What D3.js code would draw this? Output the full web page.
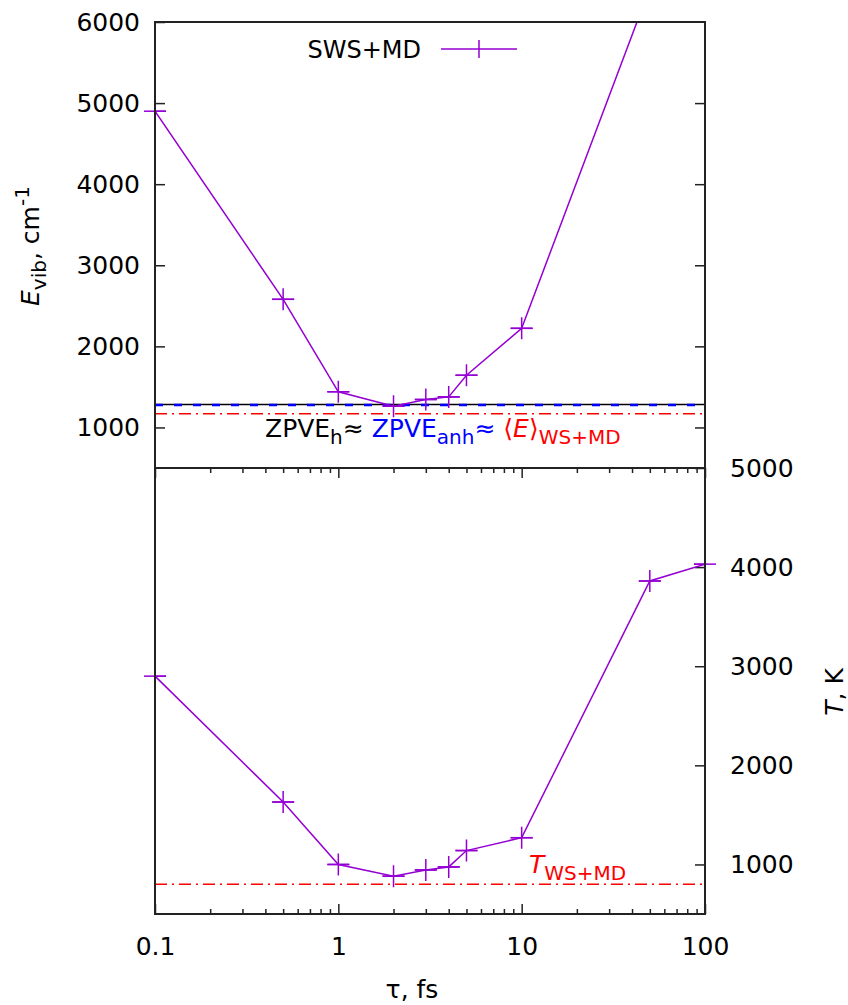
<!DOCTYPE html>
<html>
<head>
<meta charset="utf-8">
<script src="https://cdn.jsdelivr.net/npm/d3@7"></script>
<style>
  body { margin: 0; background: #fff; }
  svg { display: block; font-family: "DejaVu Sans", sans-serif; }
</style>
</head>
<body>
<svg id="chart"></svg>
<script>
// data
const tau = [0.1, 0.5, 1, 2, 3, 4, 5, 10, 50, 100];
const eVib = [4900, 2580, 1440, 1262, 1345, 1377, 1644, 2222, 6420, 7100];
const tempK = [2900, 1630, 1000, 882, 945, 975, 1140, 1270, 3860, 4030];
const zpveH = 1283;
const zpveAnh = 1278;
const eMean = 1168;
const tMean = 800;
const xTicks = [0.1, 1, 10, 100];
const yTopTicks = [1000, 2000, 3000, 4000, 5000, 6000];
const yBotTicks = [1000, 2000, 3000, 4000, 5000];

const W = 848, H = 1005;
const left = 155, right = 705;
const topY0 = 22, midY = 468, botY1 = 914;
const PURPLE = "#9400d3";
const FS = 25, FS_SUB = 20;

const svg = d3.select("#chart").attr("width", W).attr("height", H);
svg.append("rect").attr("width", W).attr("height", H).attr("fill", "#fff");

//scales
const x = d3.scaleLog().domain([0.1, 100]).range([left, right]);
const yTop = d3.scaleLinear().domain([500, 6000]).range([midY, topY0]);
const yBot = d3.scaleLinear().domain([500, 5000]).range([botY1, midY]);

// minor ticks for log axis
let minorTicks = [];
[0.1, 1, 10].forEach(d => { for (let k = 2; k <= 9; k++) minorTicks.push(d * k); });

//clip paths
const defs = svg.append("defs");
defs.append("clipPath").attr("id", "clipTop").append("rect")
    .attr("x", left).attr("y", topY0).attr("width", right - left).attr("height", midY - topY0);
defs.append("clipPath").attr("id", "clipBot").append("rect")
    .attr("x", left).attr("y", midY).attr("width", right - left).attr("height", botY1 - midY);

function styleAxis(g){
    g.select(".domain").remove();
    g.selectAll("line").attr("stroke", "#222").attr("stroke-width", 1.5);
    g.selectAll("text").attr("font-size", FS).attr("fill", "#000").attr("font-family", "DejaVu Sans");
}

// ---- top panel axes
svg.append("g").attr("transform", `translate(${left},0)`)
    .call(d3.axisLeft(yTop).tickValues(yTopTicks).tickSize(-10).tickPadding(15).tickFormat(d3.format("d")))
    .call(styleAxis);
svg.append("g").attr("transform", `translate(${right},0)`)
    .call(d3.axisRight(yTop).tickValues(yTopTicks.filter(d => d < 6000)).tickSize(-10).tickFormat(""))
    .call(styleAxis);

// ---- bottom panel axes
svg.append("g").attr("transform", `translate(${right},0)`)
    .call(d3.axisRight(yBot).tickValues(yBotTicks).tickSize(-10).tickPadding(25).tickFormat(d3.format("d")))
    .call(styleAxis);
svg.append("g").attr("transform", `translate(0,${botY1})`)
    .call(d3.axisBottom(x).tickValues(xTicks).tickSize(-10).tickPadding(23).tickFormat(d => d3.format("~g")(d)))
    .call(styleAxis);
svg.append("g").attr("transform", `translate(0,${botY1})`)
    .call(d3.axisBottom(x).tickValues(minorTicks).tickSize(-5).tickFormat(""))
    .call(styleAxis);
svg.append("g").attr("transform", `translate(0,${midY})`)
    .call(d3.axisTop(x).tickValues(xTicks).tickSize(-10).tickFormat(""))
    .call(styleAxis);
svg.append("g").attr("transform", `translate(0,${midY})`)
    .call(d3.axisTop(x).tickValues(minorTicks).tickSize(-5).tickFormat(""))
    .call(styleAxis);

// ---- reference lines
const topG = svg.append("g").attr("clip-path", "url(#clipTop)");
topG.append("line").attr("x1", left).attr("x2", right)
    .attr("y1", yTop(zpveH)).attr("y2", yTop(zpveH))
    .attr("stroke", "#000").attr("stroke-width", 1.5);
topG.append("line").attr("x1", left).attr("x2", right)
    .attr("y1", yTop(zpveAnh)).attr("y2", yTop(zpveAnh))
    .attr("stroke", "#0000ff").attr("stroke-width", 2.5).attr("stroke-dasharray", "8,11");
topG.append("line").attr("x1", left).attr("x2", right)
    .attr("y1", yTop(eMean)).attr("y2", yTop(eMean))
    .attr("stroke", "#ff0000").attr("stroke-width", 1.5).attr("stroke-dasharray", "12,5,2,5");

const botG = svg.append("g").attr("clip-path", "url(#clipBot)");
botG.append("line").attr("x1", left).attr("x2", right)
    .attr("y1", yBot(tMean)).attr("y2", yBot(tMean))
    .attr("stroke", "#ff0000").attr("stroke-width", 1.5).attr("stroke-dasharray", "12,5,2,5");

// ---- series
const topData = tau.map((t, i) => ({t: t, v: eVib[i]}));
const botData = tau.map((t, i) => ({t: t, v: tempK[i]}));
const MK = 11;

function drawSeries(g, data, yScale){
    g.append("path").datum(data)
        .attr("fill", "none").attr("stroke", PURPLE).attr("stroke-width", 1.5)
        .attr("d", d3.line().x(d => x(d.t)).y(d => yScale(d.v)));
    g.selectAll("path.mk").data(data).join("path")
        .attr("class", "mk")
        .attr("stroke", PURPLE).attr("stroke-width", 1.5)
        .attr("d", d => {
            let px = x(d.t), py = yScale(d.v);
            return `M${px - MK},${py}H${px + MK}M${px},${py - MK}V${py + MK}`;
        });
}
drawSeries(topG, topData, yTop);
drawSeries(botG, botData, yBot);
// horizontal bars of markers sitting on the frame edges stick out of the frame
const edgeG = svg.append("g");
edgeG.selectAll("path.t").data(topData.filter(d => yTop(d.v) > topY0)).join("path").attr("class", "t")
    .attr("stroke", PURPLE).attr("stroke-width", 1.5)
    .attr("d", d => `M${x(d.t) - MK},${yTop(d.v)}H${x(d.t) + MK}`);
edgeG.selectAll("path.b").data(botData).join("path").attr("class", "b")
    .attr("stroke", PURPLE).attr("stroke-width", 1.5)
    .attr("d", d => `M${x(d.t) - MK},${yBot(d.v)}H${x(d.t) + MK}`);

// ---- frames
svg.append("rect").attr("x", left).attr("y", topY0).attr("width", right - left).attr("height", midY - topY0)
    .attr("fill", "none").attr("stroke", "#222").attr("stroke-width", 2);
svg.append("rect").attr("x", left).attr("y", midY).attr("width", right - left).attr("height", botY1 - midY)
    .attr("fill", "none").attr("stroke", "#222").attr("stroke-width", 2);

// ---- legend
svg.append("text").attr("x", 421).attr("y", 58).attr("text-anchor", "end")
    .attr("font-size", 24).text("SWS+MD");
svg.append("line").attr("x1", 441).attr("x2", 517).attr("y1", 49).attr("y2", 49)
    .attr("stroke", PURPLE).attr("stroke-width", 1.5);
svg.append("line").attr("x1", 479).attr("x2", 479).attr("y1", 40).attr("y2", 58)
    .attr("stroke", PURPLE).attr("stroke-width", 1.5);

// ---- annotations
const ann = svg.append("text").attr("x", 265).attr("y", 437).attr("font-size", FS);
ann.append("tspan").attr("fill", "#000").text("ZPVE");
ann.append("tspan").attr("fill", "#000").attr("font-size", FS_SUB).attr("dy", 7).text("h");
ann.append("tspan").attr("fill", "#000").attr("dy", -7).text("≈ ");
ann.append("tspan").attr("fill", "#0000ff").text("ZPVE");
ann.append("tspan").attr("fill", "#0000ff").attr("font-size", FS_SUB).attr("dy", 7).text("anh");
ann.append("tspan").attr("fill", "#0000ff").attr("dy", -7).text("≈ ");
ann.append("tspan").attr("fill", "#ff0000").text("⟨");
ann.append("tspan").attr("fill", "#ff0000").attr("font-style", "italic").text("E");
ann.append("tspan").attr("fill", "#ff0000").text("⟩");
ann.append("tspan").attr("fill", "#ff0000").attr("font-size", FS_SUB).attr("dy", 7).text("WS+MD");

const tl = svg.append("text").attr("x", 529).attr("y", 873).attr("font-size", FS).attr("fill", "#ff0000");
tl.append("tspan").attr("font-style", "italic").text("T");
tl.append("tspan").attr("font-size", FS_SUB).attr("dy", 7).text("WS+MD");

// ---- axis titles
const yl = svg.append("text").attr("transform", "translate(39,246) rotate(-90)")
    .attr("text-anchor", "middle").attr("font-size", FS);
yl.append("tspan").attr("font-style", "italic").text("E");
yl.append("tspan").attr("font-size", FS_SUB).attr("dy", 7).text("vib");
yl.append("tspan").attr("dy", -7).text(", cm");
yl.append("tspan").attr("font-size", FS_SUB).attr("dy", -10).text("-1");

const yr = svg.append("text").attr("transform", "translate(843,692) rotate(-90)")
    .attr("text-anchor", "middle").attr("font-size", FS);
yr.append("tspan").attr("font-style", "italic").text("T");
yr.append("tspan").text(", K");

svg.append("text").attr("x", 412).attr("y", 998).attr("text-anchor", "middle")
    .attr("font-size", FS).text("τ, fs");
</script>
</body>
</html>
